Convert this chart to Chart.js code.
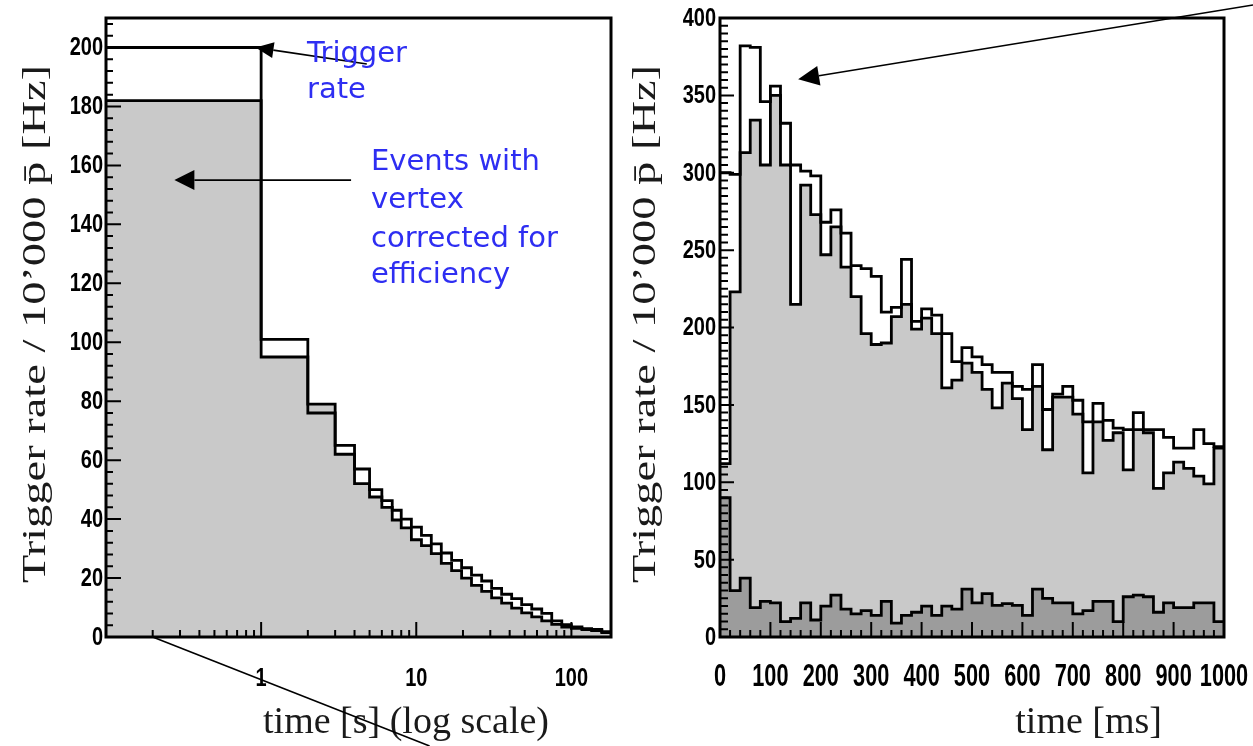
<!DOCTYPE html>
<html><head><meta charset="utf-8">
<script src="https://cdn.jsdelivr.net/npm/chart.js@4.4.1/dist/chart.umd.min.js"></script>
<style>
html,body{margin:0;padding:0;background:#fff;width:1253px;height:746px;overflow:hidden}
#left{position:absolute;left:0;top:0}
#right{position:absolute;left:626px;top:0}
</style></head><body>
<canvas id="left" width="626" height="746"></canvas>
<canvas id="right" width="627" height="746"></canvas>
<script>
// ---------- LEFT PANEL: time [s], log scale ----------
const leftEdges = [0,1,2,3,4,5,6,7,8,9.3,10.8,12.5,14.5,16.9,19.6,22.7,26.4,30.6,35.5,41.2,47.8,55.5,64.4,74.7,86.7,100,117,135,157,180];
const leftTrigger = [200,101,76,65,57,50,46.3,43,40,37.3,34.5,31.6,28.5,26,23.5,21,19,16.5,14.5,13,11,9.5,8,5.5,4.2,3.4,2.8,2.6,1.8];
const leftEvents  = [182,95,79,62,52,47.5,44,39.7,37,33,31,28.3,25,22.5,20,17.5,15.5,13.3,11.5,9.8,8.2,6.8,5.5,4.3,3.4,2.9,2.5,2.2,1.5];
const leftXLabelValues = [1, 10, 100];
const leftXLabels = ['1', '10', '100'];
const leftYLabelValues = [0, 20, 40, 60, 80, 100, 120, 140, 160, 180, 200];

// ---------- RIGHT PANEL: time [ms], 20 ms bins ----------
const rightEdges = [0,20,40,60,80,100,120,140,160,180,200,220,240,260,280,300,320,340,360,380,400,420,440,460,480,500,520,540,560,580,600,620,640,660,680,700,720,740,760,780,800,820,840,860,880,900,920,940,960,980,1000];
const rightTrigger = [300,299,382,381,346,356,332,305,301,298,
                      268,276,261,240,238,233,210,213,244,204,
                      212,208,196,178,187,181,176,171,171,162,
                      160,176,147,157,162,153,139,151,140,135,
                      134,145,134,134,129,122,122,134,125,123];
const rightEvents  = [112,223,313,334,305,350,305,215,292,273,
                      247,265,239,220,196,189,190,207,215,199,
                      206,196,161,166,177,171,160,148,164,154,
                      134,162,121,155,155,144,106,139,127,132,
                      108,134,132,96,106,113,109,104,99,122];
const rightBackground = [90,30,38,19,23,22,10,12,22,11,
                         20,27,18,15,17,14,23,9,14,16,
                         20,14,20,18,31,22,28,20.5,21.6,20.5,
                         14,31,25,22,22,15,17,23,23,10,
                         26,27,26,16,22,19,19,22,22,10];
const rightXLabelValues = [0,100,200,300,400,500,600,700,800,900,1000];
const rightYLabelValues = [0,50,100,150,200,250,300,350,400];

const yTitle = 'Trigger rate / 10\u2019000 p\u0304 [Hz]';
const leftXTitle = 'time [s] (log scale)';
const rightXTitle = 'time [ms]';
const blue = '#2e2ef2';

const L_XMIN = 0.1, L_XMAX = 180, L_YMAX = 210;
const R_XMAX = 1000, R_YMAX = 400;

function histPoints(edges, values, xMin) {
  const pts = [];
  for (let i = 0; i < values.length; i++) pts.push({x: Math.max(edges[i], xMin), y: values[i]});
  pts.push({x: edges[values.length], y: values[values.length - 1]});
  return pts;
}

function arrow(ctx, x0, y0, x1, y1, len, half) {
  const ang = Math.atan2(y1 - y0, x1 - x0);
  const bx = x1 - len * Math.cos(ang), by = y1 - len * Math.sin(ang);
  ctx.beginPath(); ctx.moveTo(x0, y0); ctx.lineTo(bx, by); ctx.stroke();
  ctx.beginPath(); ctx.moveTo(x1, y1);
  ctx.lineTo(bx + half * Math.sin(ang), by - half * Math.cos(ang));
  ctx.lineTo(bx - half * Math.sin(ang), by + half * Math.cos(ang));
  ctx.closePath(); ctx.fill();
}

function drawYTitle(ctx, cx, cy, len) {
  ctx.save();
  ctx.translate(cx, cy); ctx.rotate(-Math.PI / 2);
  ctx.font = '34px "Liberation Serif", "DejaVu Serif", serif';
  const w = ctx.measureText(yTitle).width;
  ctx.scale(len / w, 1);
  ctx.fillStyle = '#1a1a1a'; ctx.textAlign = 'center'; ctx.textBaseline = 'middle';
  ctx.fillText(yTitle, 0, 0);
  ctx.restore();
}

function drawLabel(ctx, text, x, y, align, size, sx) {
  ctx.save();
  ctx.font = 'bold ' + size + 'px "Liberation Sans", Arial, sans-serif';
  ctx.translate(x, y); ctx.scale(sx, 1);
  ctx.textAlign = align; ctx.textBaseline = 'middle'; ctx.fillStyle = '#000';
  ctx.fillText(text, 0, 0);
  ctx.restore();
}

function decorPlugin(kind) {
  return {
    id: 'decor_' + kind,
    afterDatasetsDraw(chart) {
      const {ctx, chartArea: a, scales: {x, y}} = chart;
      ctx.save();
      ctx.strokeStyle = '#000'; ctx.lineWidth = 2;
      ctx.beginPath();
      if (kind === 'left') {
        for (let v = 0; v <= L_YMAX; v += 4) {
          const py = y.getPixelForValue(v), len = (v % 20 === 0) ? 15 : 7;
          ctx.moveTo(a.left, py); ctx.lineTo(a.left + len, py);
        }
        for (const d of [0.1, 1, 10, 100]) for (let m = 1; m <= 9; m++) {
          const v = m * d; if (v < L_XMIN || v > L_XMAX) continue;
          const px = x.getPixelForValue(v), len = (m === 1) ? 15 : 7;
          ctx.moveTo(px, a.bottom); ctx.lineTo(px, a.bottom - len);
        }
      } else {
        for (let v = 0; v <= R_YMAX; v += 5) {
          const py = y.getPixelForValue(v), len = (v % 50 === 0) ? 14 : 8;
          ctx.moveTo(a.left, py); ctx.lineTo(a.left + len, py);
        }
        for (let v = 0; v <= R_XMAX; v += 20) {
          const px = x.getPixelForValue(v), len = (v % 100 === 0) ? 15 : 7;
          ctx.moveTo(px, a.bottom); ctx.lineTo(px, a.bottom - len);
        }
      }
      ctx.stroke();
      ctx.lineWidth = 3;
      ctx.strokeRect(a.left, a.top, a.right - a.left, a.bottom - a.top);
      ctx.restore();
    },
    afterDraw(chart) {
      const {ctx, chartArea: a, scales: {x, y}} = chart;
      ctx.save();
      // tick labels, placed at the library's own tick positions
      if (kind === 'left') {
        for (const t of y.ticks) if (leftYLabelValues.includes(t.value))
          drawLabel(ctx, String(t.value), a.left - 3, y.getPixelForValue(t.value) + 1, 'right', 25, 0.8);
        for (const t of x.ticks) {
          const i = leftXLabelValues.findIndex(v => Math.abs(v - t.value) < 1e-9);
          if (i >= 0) drawLabel(ctx, leftXLabels[i], x.getPixelForValue(t.value), 679, 'center', 25, 0.8);
        }
      } else {
        for (const t of y.ticks) if (rightYLabelValues.includes(t.value))
          drawLabel(ctx, String(t.value), a.left - 4, y.getPixelForValue(t.value) + 1, 'right', 25, 0.8);
        for (const t of x.ticks) if (rightXLabelValues.includes(t.value))
          drawLabel(ctx, String(t.value), x.getPixelForValue(t.value), 677, 'center', 32, 0.68);
      }
      // axis titles
      ctx.font = '38px "Liberation Serif", "DejaVu Serif", serif';
      ctx.fillStyle = '#1a1a1a'; ctx.textAlign = 'right'; ctx.textBaseline = 'alphabetic';
      ctx.fillText(kind === 'left' ? leftXTitle : rightXTitle, a.right - 62, 733);
      drawYTitle(ctx, kind === 'left' ? 36 : 20, 324, 518);
      // annotations
      ctx.strokeStyle = '#000'; ctx.fillStyle = '#000'; ctx.lineWidth = 1.6;
      if (kind === 'left') {
        arrow(ctx, x.getPixelForValue(4.8), y.getPixelForValue(194.4), x.getPixelForValue(0.92), y.getPixelForValue(200), 18, 8);
        arrow(ctx, x.getPixelForValue(3.8), y.getPixelForValue(155), x.getPixelForValue(0.276), y.getPixelForValue(155), 20, 10);
        const x0 = x.getPixelForValue(0.2), y0 = y.getPixelForValue(0);
        ctx.beginPath(); ctx.moveTo(x0, y0); ctx.lineTo(x0 + (chart.height - y0) * 2.54, chart.height); ctx.stroke();
        ctx.fillStyle = blue; ctx.font = '29px "DejaVu Sans", sans-serif';
        ctx.textAlign = 'left'; ctx.textBaseline = 'alphabetic';
        ctx.fillText('Trigger', 307, 62);
        ctx.fillText('rate', 307, 98);
        ctx.fillText('Events with', 371, 170);
        ctx.fillText('vertex', 371, 208);
        ctx.fillText('corrected for', 371, 247);
        ctx.fillText('efficiency', 371, 283);
      } else {
        arrow(ctx, chart.width, 5, x.getPixelForValue(155), y.getPixelForValue(360.5), 21, 10);
      }
      ctx.restore();
    }
  };
}

const common = {
  responsive: false, animation: false, events: [],
  plugins: {legend: {display: false}, tooltip: {enabled: false}},
  elements: {point: {radius: 0}, line: {tension: 0, borderJoinStyle: 'miter', borderCapStyle: 'butt'}}
};

function fitX(h) { return s => { s.height = h; s.paddingLeft = 0; s.paddingRight = 0; }; }
function fitY(w) { return s => { s.width = w; s.paddingTop = 0; s.paddingBottom = 0; }; }

new Chart(document.getElementById('left'), {
  type: 'line',
  data: {datasets: [
    {label: 'Trigger rate', data: histPoints(leftEdges, leftTrigger, L_XMIN), stepped: 'before',
     borderColor: '#000', borderWidth: 2.8, fill: false},
    {label: 'Events with vertex corrected for efficiency', data: histPoints(leftEdges, leftEvents, L_XMIN), stepped: 'before',
     borderColor: '#000', borderWidth: 2.8, backgroundColor: '#c9c9c9', fill: 'origin'}
  ]},
  options: Object.assign({}, common, {
    layout: {padding: {left: 0, top: 18, right: 15, bottom: 0}},
    scales: {
      x: {type: 'logarithmic', min: L_XMIN, max: L_XMAX,
          grid: {display: false, drawTicks: false}, border: {display: false},
          ticks: {display: false, autoSkip: false}, afterFit: fitX(109)},
      y: {type: 'linear', min: 0, max: L_YMAX,
          grid: {display: false, drawTicks: false}, border: {display: false},
          ticks: {display: false, stepSize: 20, includeBounds: false}, afterFit: fitY(106)}
    }
  }),
  plugins: [decorPlugin('left')]
});

new Chart(document.getElementById('right'), {
  type: 'line',
  data: {datasets: [
    {label: 'Trigger rate', data: histPoints(rightEdges, rightTrigger, 0), stepped: 'before',
     borderColor: '#000', borderWidth: 2.8, fill: false},
    {label: 'Background', data: histPoints(rightEdges, rightBackground, 0), stepped: 'before',
     borderColor: '#000', borderWidth: 2.8, backgroundColor: '#9c9c9c', fill: 'origin'},
    {label: 'Events with vertex', data: histPoints(rightEdges, rightEvents, 0), stepped: 'before',
     borderColor: '#000', borderWidth: 2.8, backgroundColor: '#c9c9c9', fill: 'origin'}
  ]},
  options: Object.assign({}, common, {
    layout: {padding: {left: 0, top: 18, right: 29, bottom: 0}},
    scales: {
      x: {type: 'linear', min: 0, max: R_XMAX,
          grid: {display: false, drawTicks: false}, border: {display: false},
          ticks: {display: false, stepSize: 100, autoSkip: false}, afterFit: fitX(109)},
      y: {type: 'linear', min: 0, max: R_YMAX,
          grid: {display: false, drawTicks: false}, border: {display: false},
          ticks: {display: false, stepSize: 50}, afterFit: fitY(94)}
    }
  }),
  plugins: [decorPlugin('right')]
});
</script>
</body></html>
